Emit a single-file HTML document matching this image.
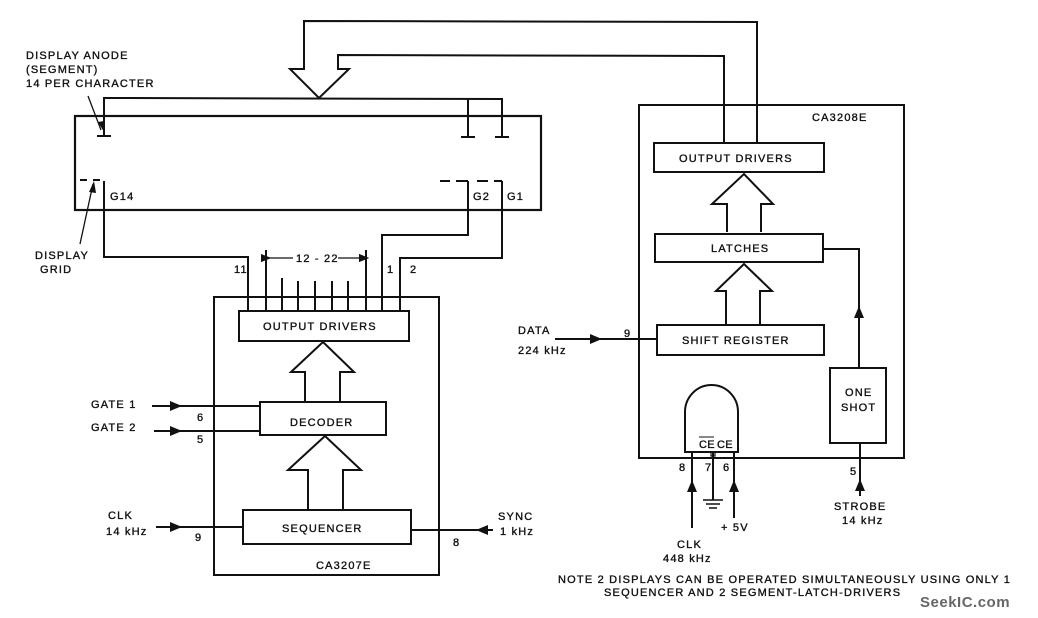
<!DOCTYPE html>
<html><head><meta charset="utf-8"><style>
html,body{margin:0;padding:0;background:#fff;}
svg{display:block}
text{font-family:"Liberation Sans",sans-serif;font-size:11px;fill:#111;letter-spacing:1.2px;stroke:#111;stroke-width:0.35px}
</style></head><body>
<svg width="1038" height="618" viewBox="0 0 1038 618" xmlns="http://www.w3.org/2000/svg">
<defs>
<marker id="a" viewBox="0 0 10 10" refX="5" refY="5" markerWidth="8" markerHeight="8" orient="auto"><path d="M0,1 L10,5 L0,9 z" fill="#111"/></marker>
</defs>
<g stroke="#111" stroke-width="2" fill="none">
<rect x="75" y="116" width="466" height="94" stroke-width="2.2"/>
<polyline points="104,135 104,98 502,99 502,137"/>
<line x1="468" y1="99" x2="468" y2="137"/>
<line x1="97" y1="136" x2="111" y2="136"/><line x1="461" y1="137" x2="475" y2="137"/><line x1="495" y1="137" x2="509" y2="137"/>
<polyline points="757,143 757,22 304,21 304,69 290,69 319,98 349,69 338,69 338,55 724,56 724,143"/>
<line x1="80" y1="180" x2="87" y2="180"/><line x1="93" y1="180" x2="100" y2="180"/>
<polyline points="104,181 104,257 248,257 248,311"/>
<line x1="440" y1="181" x2="450" y2="181"/><line x1="456" y1="181" x2="468" y2="181"/><line x1="477" y1="181" x2="488" y2="181"/><line x1="494" y1="181" x2="502" y2="181"/>
<polyline points="468,181 468,235 382,235 382,311"/>
<polyline points="502,181 502,258 400,258 400,311"/>
<line x1="88" y1="96" x2="101" y2="130" stroke-width="1.3"/>
<polygon points="98,122 104,132 104,121" fill="#111" stroke="none"/>
<line x1="80" y1="244" x2="93" y2="184" stroke-width="1.3"/>
<polygon points="89,192 94,181 96,193" fill="#111" stroke="none"/>
<rect x="214" y="297" width="225" height="278"/>
<rect x="239" y="311" width="170" height="30"/>
<line x1="266" y1="250" x2="266" y2="311"/><line x1="366" y1="250" x2="366" y2="311"/>
<line x1="282" y1="278" x2="282" y2="311"/><line x1="298" y1="281" x2="298" y2="311"/><line x1="315" y1="281" x2="315" y2="311"/><line x1="332" y1="281" x2="332" y2="311"/><line x1="348" y1="281" x2="348" y2="311"/>
<line x1="266" y1="258" x2="293" y2="258" stroke-width="1.3" marker-start="url(#a)"/>
<line x1="338" y1="258" x2="364" y2="258" stroke-width="1.3" marker-end="url(#a)"/>
<rect x="260" y="402" width="126" height="33"/>
<rect x="243" y="510" width="168" height="34"/>
<polyline points="305,402 305,372 291,372 323,342 354,372 340,372 340,402"/>
<polyline points="308,510 308,470 288,470 325,436 361,470 343,470 343,510"/>
<line x1="152" y1="406" x2="260" y2="406"/><line x1="154" y1="431" x2="260" y2="431"/>
<line x1="156" y1="527" x2="243" y2="527"/><line x1="411" y1="530" x2="493" y2="530"/>
<rect x="639" y="105" width="265" height="353"/>
<rect x="654" y="143" width="170" height="29"/>
<rect x="655" y="234" width="168" height="28"/>
<rect x="657" y="325" width="167" height="30"/>
<polyline points="727,232 727,204 712,204 744,174 773,204 761,204 761,232"/>
<polyline points="726,325 726,291 716,291 744,264 772,291 760,291 760,325"/>
<line x1="555" y1="339" x2="657" y2="339"/>
<polyline points="823,249 859,249 859,368"/>
<rect x="830" y="368" width="56" height="75"/>
<line x1="860" y1="443" x2="860" y2="496"/>
<path d="M685,452 L685,412 A26.5,27 0 0 1 738,412 L738,452 Z"/>
<line x1="692" y1="452" x2="692" y2="528"/><line x1="713" y1="452" x2="713" y2="500"/><line x1="734" y1="452" x2="734" y2="518"/>
<line x1="703" y1="500" x2="723" y2="500" stroke-width="1.5"/><line x1="706" y1="504" x2="720" y2="504" stroke-width="1.5"/><line x1="709" y1="508" x2="717" y2="508" stroke-width="1.5"/>
<rect x="711" y="452" width="4" height="4" stroke-width="1.2"/>
</g>
<g fill="#111">
<polygon points="170,401 182,406 170,411"/><polygon points="170,426 182,431 170,436"/>
<polygon points="170,522 182,527 170,532"/><polygon points="488,525 476,530 488,535"/>
<polygon points="590,334 602,339 590,344"/>
<polygon points="854,318 859,306 864,318"/>
<polygon points="855,491 860,479 865,491"/>
<polygon points="687,492 692,480 697,492"/><polygon points="729,492 734,480 739,492"/>
</g>
<text x="26" y="59">DISPLAY ANODE</text>
<text x="26" y="73">(SEGMENT)</text>
<text x="26" y="87">14 PER CHARACTER</text>
<text x="110" y="200">G14</text>
<text x="473" y="200">G2</text><text x="507" y="200">G1</text>
<text x="35" y="259">DISPLAY</text><text x="40" y="273">GRID</text>
<text x="234" y="273">11</text><text x="296" y="262">12 - 22</text>
<text x="387" y="273">1</text><text x="410" y="273">2</text>
<text x="263" y="330">OUTPUT DRIVERS</text>
<text x="290" y="426">DECODER</text>
<text x="282" y="532">SEQUENCER</text>
<text x="316" y="569">CA3207E</text>
<text x="91" y="408">GATE 1</text><text x="91" y="431">GATE 2</text>
<text x="197" y="421">6</text><text x="197" y="443">5</text>
<text x="108" y="519">CLK</text><text x="106" y="535">14 kHz</text>
<text x="195" y="541">9</text>
<text x="498" y="520">SYNC</text><text x="500" y="535">1 kHz</text>
<text x="453" y="546">8</text>
<text x="812" y="121">CA3208E</text>
<text x="679" y="162">OUTPUT DRIVERS</text>
<text x="711" y="252">LATCHES</text>
<text x="682" y="344">SHIFT REGISTER</text>
<text x="518" y="334">DATA</text><text x="518" y="354">224 kHz</text>
<text x="624" y="337">9</text>
<text x="845" y="396">ONE</text><text x="841" y="411">SHOT</text>
<text x="699" y="448" style="letter-spacing:0.3px">CE</text><text x="717" y="448" style="letter-spacing:0.3px">CE</text>
<line x1="699" y1="437" x2="714" y2="437" stroke="#111" stroke-width="1"/>
<text x="679" y="471">8</text><text x="705" y="471">7</text><text x="723" y="471">6</text>
<text x="850" y="475">5</text>
<text x="834" y="510">STROBE</text><text x="842" y="524">14 kHz</text>
<text x="677" y="548">CLK</text><text x="663" y="562">448 kHz</text>
<text x="721" y="531">+ 5V</text>
<text x="558" y="583">NOTE  2 DISPLAYS CAN BE OPERATED SIMULTANEOUSLY USING ONLY 1</text>
<text x="604" y="596">SEQUENCER AND 2 SEGMENT-LATCH-DRIVERS</text>
<text x="920" y="607" style="font-size:15px;font-weight:bold;fill:#666;stroke:none;letter-spacing:0.5px">SeekIC.com</text>
</svg>
</body></html>
